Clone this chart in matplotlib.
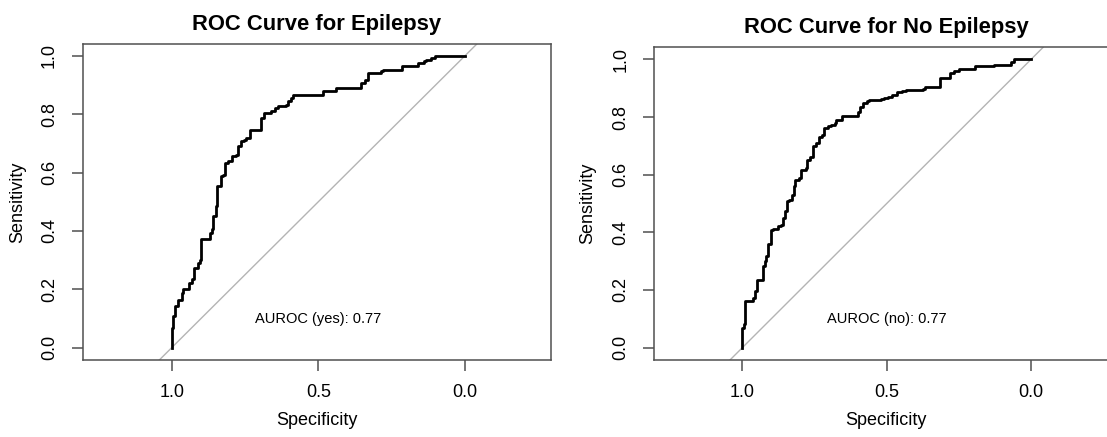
import matplotlib
matplotlib.use("Agg")
import matplotlib.pyplot as plt

plt.rcParams["font.family"] = ["Liberation Sans", "DejaVu Sans"]

# ROC curve vertices (specificity, sensitivity)
spec_yes = [1.000, 1.000, 0.996, 0.996, 0.990, 0.990, 0.978, 0.978, 0.966, 0.966,
            0.960, 0.941, 0.941, 0.929, 0.923, 0.923, 0.911, 0.905, 0.899, 0.899,
            0.874, 0.868, 0.862, 0.858, 0.850, 0.844, 0.831, 0.825, 0.817, 0.807,
            0.795, 0.782, 0.773, 0.764, 0.752, 0.746, 0.733, 0.703, 0.697, 0.685,
            0.660, 0.648, 0.636, 0.611, 0.605, 0.593, 0.587, 0.489, 0.483, 0.446,
            0.440, 0.361, 0.355, 0.342, 0.330, 0.287, 0.281, 0.220, 0.214, 0.165,
            0.159, 0.141, 0.134, 0.116, 0.104, 0.000]
sens_yes = [0.000, 0.068, 0.068, 0.108, 0.108, 0.143, 0.143, 0.165, 0.165, 0.188,
            0.200, 0.200, 0.222, 0.234, 0.234, 0.274, 0.291, 0.302, 0.302, 0.371,
            0.371, 0.393, 0.405, 0.450, 0.485, 0.553, 0.587, 0.593, 0.633, 0.639,
            0.656, 0.661, 0.690, 0.707, 0.713, 0.718, 0.747, 0.747, 0.787, 0.804,
            0.810, 0.821, 0.827, 0.832, 0.844, 0.855, 0.867, 0.867, 0.878, 0.878,
            0.889, 0.889, 0.906, 0.918, 0.941, 0.946, 0.952, 0.952, 0.963, 0.963,
            0.975, 0.981, 0.986, 0.992, 1.000, 1.000]

spec_no = [1.000, 1.000, 0.994, 0.991, 0.969, 0.963, 0.957, 0.948, 0.932, 0.929,
           0.920, 0.918, 0.911, 0.902, 0.895, 0.877, 0.865, 0.859, 0.852, 0.846,
           0.840, 0.828, 0.822, 0.816, 0.803, 0.797, 0.781, 0.776, 0.766, 0.756,
           0.744, 0.736, 0.723, 0.717, 0.705, 0.692, 0.680, 0.674, 0.656, 0.606,
           0.600, 0.594, 0.582, 0.569, 0.563, 0.520, 0.508, 0.496, 0.483, 0.465,
           0.446, 0.434, 0.373, 0.367, 0.323, 0.317, 0.293, 0.280, 0.268, 0.250,
           0.200, 0.194, 0.139, 0.127, 0.077, 0.068, 0.059, 0.000]
sens_no = [0.000, 0.069, 0.081, 0.161, 0.161, 0.173, 0.196, 0.236, 0.236, 0.283,
           0.300, 0.317, 0.358, 0.409, 0.412, 0.421, 0.427, 0.450, 0.473, 0.507,
           0.513, 0.531, 0.559, 0.582, 0.588, 0.617, 0.623, 0.652, 0.663, 0.698,
           0.709, 0.732, 0.738, 0.761, 0.769, 0.773, 0.781, 0.790, 0.802, 0.802,
           0.819, 0.836, 0.848, 0.854, 0.859, 0.862, 0.865, 0.871, 0.877, 0.888,
           0.892, 0.894, 0.897, 0.905, 0.905, 0.934, 0.934, 0.952, 0.961, 0.965,
           0.965, 0.977, 0.977, 0.980, 0.980, 0.992, 1.000, 1.000]

auc_yes = 0.77
auc_no = 0.77

x_ticks = [1.0, 0.5, 0.0]
y_ticks = [0.0, 0.2, 0.4, 0.6, 0.8, 1.0]

FRAME = "#505050"


def draw_roc(ax, spec, sens, title, auc_text, xlim, ylim, xlab_y, ylab_x):
    ax.axline((1.0, 0.0), (0.0, 1.0), color="#b4b4b4", lw=1.0, zorder=1)
    ax.plot(spec, sens, color="black", lw=2.0, drawstyle="steps-post", zorder=2)
    ax.set_xlim(*xlim)
    ax.set_ylim(*ylim)
    ax.set_xticks(x_ticks)
    ax.set_xticklabels([f"{v:.1f}" for v in x_ticks], fontsize=13)
    ax.set_yticks(y_ticks)
    ax.set_yticklabels([f"{v:.1f}" for v in y_ticks], fontsize=13,
                       rotation=90, va="center")
    ax.tick_params(direction="out", length=8, width=1.1, color=FRAME)
    ax.tick_params(axis="x", pad=9)
    ax.tick_params(axis="y", pad=10)
    for sp in ax.spines.values():
        sp.set_color(FRAME)
        sp.set_linewidth(1.1)
    ax.text(0.5, 0.1, auc_text, ha="center", va="center", fontsize=10.5)
    ax.set_title(title, fontsize=15.8, fontweight="bold", pad=10)
    ax.set_xlabel("Specificity", fontsize=13, va="center")
    ax.set_ylabel("Sensitivity", fontsize=13, va="center")
    ax.xaxis.set_label_coords(0.5, xlab_y)
    ax.yaxis.set_label_coords(ylab_x, 0.5)


fig = plt.figure(figsize=(11.07, 4.37), dpi=100)
ax1 = fig.add_axes([0.0750, 0.1762, 0.4228, 0.7231])
ax2 = fig.add_axes([0.5911, 0.1762, 0.4185, 0.7156])

draw_roc(ax1, spec_yes, sens_yes, "ROC Curve for Epilepsy",
         f"AUROC (yes): {auc_yes:.2f}", (1.302, -0.293), (-0.042, 1.040),
         -0.193, -0.139)
draw_roc(ax2, spec_no, sens_no, "ROC Curve for No Epilepsy",
         f"AUROC (no): {auc_no:.2f}", (1.305, -0.300), (-0.043, 1.042),
         -0.195, -0.1435)

fig.savefig("out.png", dpi=100)
